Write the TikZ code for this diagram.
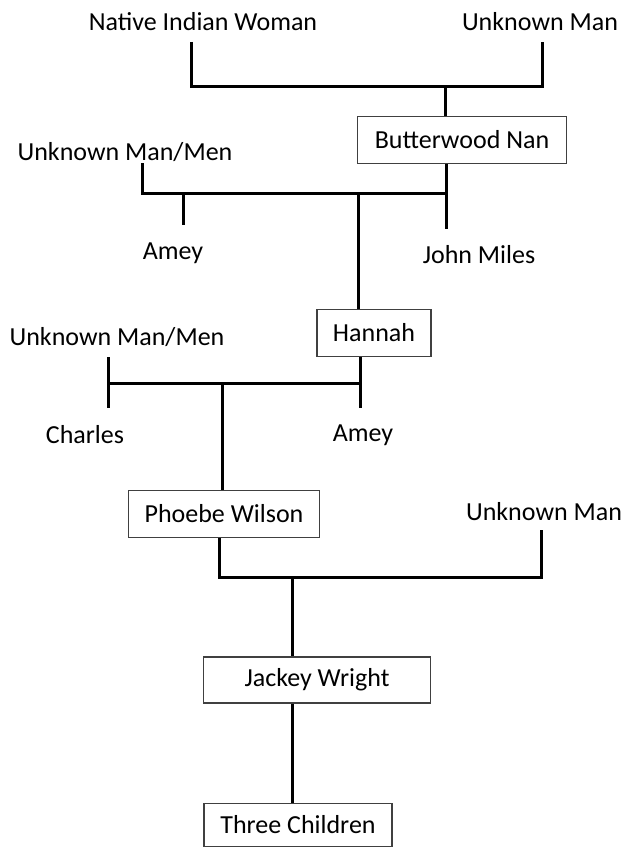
\documentclass[tikz,border=0pt]{standalone}
\usepackage{fontspec}
\setmainfont{Carlito}
\usetikzlibrary{calc}

\begin{document}
\begin{tikzpicture}[
    x=1pt, y=-1pt,
    font=\fontsize{26}{30}\selectfont,
    person/.style={
        rectangle, draw=black!75, line width=1.4pt,
        fill=white, align=center, inner sep=0pt
    },
    plainname/.style={
        rectangle, draw=none, fill=none, align=center, inner sep=0pt
    },
    bar/.style={line width=3pt, draw=black}
]
\useasboundingbox (0,0) rectangle (638,848);

% Names without box
\node[plainname] (native_woman) at (203,22) {Native Indian Woman};
\node[plainname] (unknown_top) at (540,22) {Unknown Man};
\node[plainname] (unknown_men1) at (125,152) {Unknown Man/Men};
\node[plainname] (amey1) at (173,253) {Amey};
\node[plainname] (john_miles) at (479,255) {John Miles};
\node[plainname] (unknown_men2) at (117,337) {Unknown Man/Men};
\node[plainname] (charles) at (85,435) {Charles};
\node[plainname] (amey2) at (363,435) {Amey};
\node[plainname] (unknown_man3) at (544,512) {Unknown Man};

% Line of descent (boxed)
\node[person, minimum width=209, minimum height=47] (butterwood) at (462,140) {Butterwood Nan};
\node[person, minimum width=114, minimum height=47] (hannah) at (374,333) {Hannah};
\node[person, minimum width=191, minimum height=47] (phoebe) at (224,514) {Phoebe Wilson};
\node[person, minimum width=227, minimum height=46] (jackey) at (317,680) {Jackey Wright};
\node[person, minimum width=188, minimum height=43] (three_children) at (298,825) {Three Children};

% Junctions and free ends
\coordinate (nw_stub) at (191,42);
\coordinate (um_stub) at (542,42);
\coordinate (fam1) at (445,87);
\coordinate (um1_stub) at (142,163);
\coordinate (fam2) at (358,193);
\coordinate (amey1_end) at (183,225);
\coordinate (jm_end) at (446,229);
\coordinate (um2_stub) at (108,357);
\coordinate (charles_end) at (108,408);
\coordinate (fam3) at (222,383);
\coordinate (amey2_end) at (360,408);
\coordinate (pw_leg) at (219,577);
\coordinate (um3_stub) at (541,530);
\coordinate (fam4) at (292,577);

% Family 1
\draw[bar] (nw_stub) |- (fam1) -| (um_stub);
\draw[bar] (fam1) -- (fam1 |- butterwood.north);

% Family 2
\draw[bar] (um1_stub) |- (jm_end |- fam2);
\draw[bar] (butterwood.south -| jm_end) -- (jm_end);
\draw[bar] (amey1_end |- fam2) -- (amey1_end);
\draw[bar] (fam2) -- (fam2 |- hannah.north);

% Family 3
\draw[bar] (um2_stub) -- (charles_end);
\draw[bar] (um2_stub |- fam3) -- (amey2_end |- fam3);
\draw[bar] (hannah.south -| amey2_end) -- (amey2_end);
\draw[bar] (fam3) -- (phoebe.north -| fam3);

% Family 4
\draw[bar] (phoebe.south -| pw_leg) -- (pw_leg) -| (um3_stub);
\draw[bar] (fam4) -- (jackey.north -| fam4);
\draw[bar] (jackey.south -| fam4) -- (three_children.north -| fam4);

\end{tikzpicture}
\end{document}
